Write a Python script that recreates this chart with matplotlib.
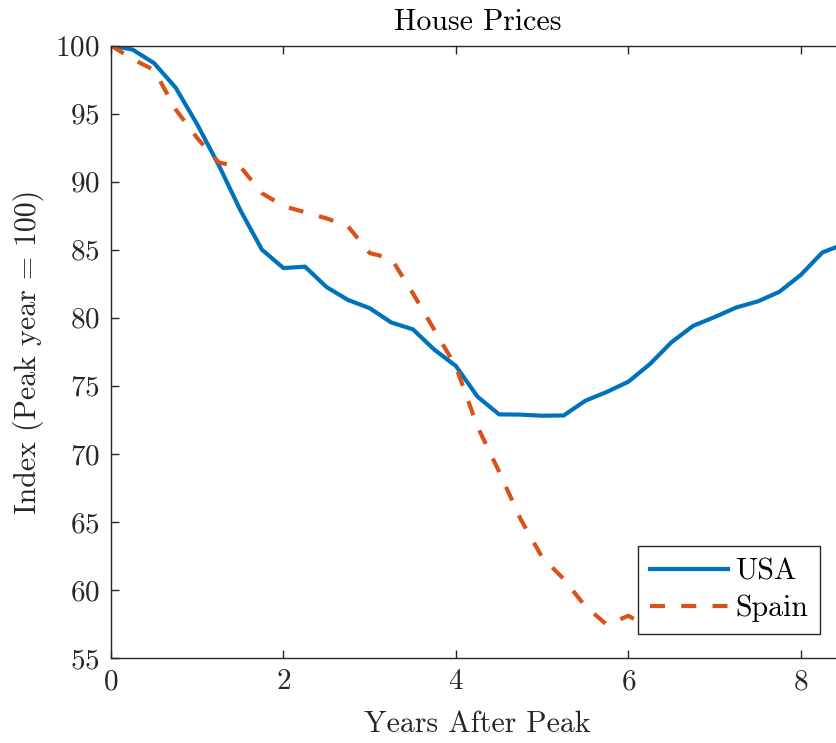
import numpy as np
import matplotlib
matplotlib.use("Agg")
import matplotlib.pyplot as plt

years_usa = [0, 0.25, 0.5, 0.75, 1.0, 1.25, 1.5, 1.75, 2.0, 2.25, 2.5, 2.75, 3.0,
             3.25, 3.5, 3.75, 4.0, 4.25, 4.5, 4.75, 5.0, 5.25, 5.5, 5.75, 6.0,
             6.25, 6.5, 6.75, 7.0, 7.25, 7.5, 7.75, 8.0, 8.25, 8.5]
usa = [100.0, 99.7, 98.7, 96.9, 94.2, 91.2, 87.9, 85.0, 83.65, 83.75, 82.25, 81.3, 80.7,
       79.65, 79.15, 77.65, 76.45, 74.2, 72.9, 72.88, 72.8, 72.82, 73.9, 74.55, 75.3,
       76.6, 78.2, 79.4, 80.05, 80.75, 81.2, 81.9, 83.15, 84.8, 85.4]

years_spain = [0, 0.25, 0.5, 0.75, 1.0, 1.25, 1.5, 1.75, 2.0, 2.25, 2.5, 2.75, 3.0,
               3.25, 3.5, 3.75, 4.0, 4.25, 4.5, 4.75, 5.0, 5.25, 5.5, 5.75, 6.0, 6.25]
spain = [100.0, 99.0, 98.2, 95.3, 93.2, 91.4, 91.1, 89.15, 88.2, 87.75, 87.3, 86.7, 84.75,
         84.35, 81.8, 79.1, 76.4, 72.0, 68.7, 65.2, 62.4, 60.8, 58.8, 57.45, 58.1, 57.2]

xticks = [0, 2, 4, 6, 8]
yticks = [55, 60, 65, 70, 75, 80, 85, 90, 95, 100]

plt.rcParams['font.family'] = ['cmr10', 'DejaVu Serif']
plt.rcParams['axes.formatter.use_mathtext'] = True

W, H = 836, 743
fig = plt.figure(figsize=(W / 100, H / 100), dpi=100)
left, right, top, bottom = 111, 844, 45.5, 658
ax = fig.add_axes([left / W, 1 - bottom / H, (right - left) / W, (bottom - top) / H])

blue = '#0072BD'
orange = '#D95319'
ax.plot(years_usa, usa, color=blue, lw=3.0, label='USA', solid_joinstyle='miter')
l2, = ax.plot(years_spain, spain, color=orange, lw=3.0, label='Spain', linestyle='--')
l2.set_dashes((3.6, 3.9))

ax.set_xlim(0, 8.5)
ax.set_ylim(55, 100)
ax.set_xticks(xticks)
ax.set_yticks(yticks)
ax.tick_params(direction='in', length=6, width=1.0, colors='#262626', labelsize=21,
               top=True, right=True, pad=8)
for lab in ax.get_xticklabels() + ax.get_yticklabels():
    lab.set_color('#262626')
for s in ax.spines.values():
    s.set_color('#262626')
    s.set_linewidth(1.0)

ax.set_title('House Prices', fontsize=21.5, color='black', pad=11)
ax.set_xlabel('Years After Peak', fontsize=21.5, color='#262626', labelpad=11)
ax.set_ylabel('Index (Peak year = 100)', fontsize=21.5, color='#262626', labelpad=8)

leg = ax.legend(loc='lower right', bbox_to_anchor=(820 / W, 1 - 634 / H),
                bbox_transform=fig.transFigure, borderaxespad=0, fontsize=21.5,
                frameon=True, fancybox=False, edgecolor='#262626', framealpha=1,
                handlelength=2.6, handletextpad=0.25, borderpad=0.4, labelspacing=0.3)
leg.get_frame().set_linewidth(1.0)

fig.savefig('out.png', dpi=100)
